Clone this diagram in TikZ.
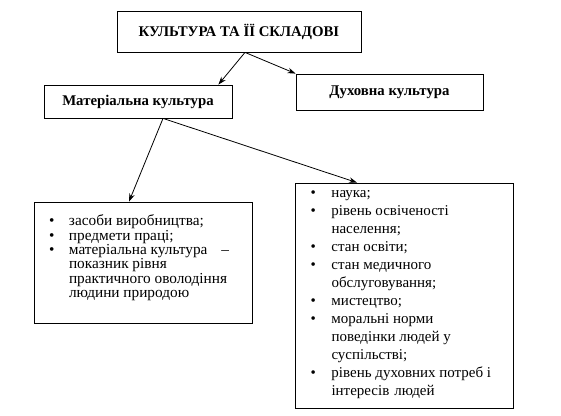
\documentclass[tikz,border=0pt]{standalone}
\usepackage{fontspec}
\setmainfont{Liberation Serif}
\usetikzlibrary{arrows.meta}
\newcommand{\bul}{\makebox[20pt][l]{\textbullet}}
\newcommand{\nob}{\makebox[20pt][l]{}}
\begin{document}
\begin{tikzpicture}[x=1pt,y=-1pt,
  box/.style={draw, line width=0.8pt, inner sep=0pt},
  head/.style={box, font=\fontsize{14.8}{16}\selectfont\bfseries},
  conn/.style={line width=0.8pt, -{Stealth[length=8pt,width=5.5pt]}}]
\useasboundingbox (0,0) rectangle (561,415);
\fill[white] (0,0) rectangle (561,415);
\node[head, minimum width=244pt, minimum height=41pt] (top) at (239,31.5) {КУЛЬТУРА ТА ЇЇ СКЛАДОВІ};
\node[head, minimum width=188pt, minimum height=33pt] (mat) at (138,101.5) {Матеріальна культура};
\node[head, minimum width=187pt, minimum height=36pt] (duh) at (389.5,92) {Духовна культура};
\node[box] (lb) at (143,262.5) {\begin{minipage}[c][121pt][t]{218pt}%
\vspace*{13pt}\fontsize{15.3}{14}\selectfont\noindent\hspace*{15pt}%
\begin{tabular}[t]{@{}l@{}l@{}}
\bul & засоби виробництва;\\
\bul & предмети праці;\\
\bul & матеріальна культура\hspace{14pt}–\\
\nob & показник рівня\\
\nob & практичного оволодіння\\
\nob & людини природою
\end{tabular}\end{minipage}};
\node[box] (rb) at (404.5,295.5) {\begin{minipage}[c][225pt][t]{218pt}%
\vspace*{2pt}\fontsize{15}{18}\selectfont\noindent\hspace*{15pt}%
\begin{tabular}[t]{@{}l@{\hspace{1pt}}l@{}}
\bul & наука;\\
\bul & рівень освіченості\\
\nob & населення;\\
\bul & стан освіти;\\
\bul & стан медичного\\
\nob & обслуговування;\\
\bul & мистецтво;\\
\bul & моральні норми\\
\nob & поведінки людей у\\
\nob & суспільстві;\\
\bul & рівень духовних потреб і\\
\nob & інтересів\hspace{5pt}людей
\end{tabular}\end{minipage}};
\draw[conn] ([xshift=6pt]top.south) -- ([xshift=-14pt]mat.north east);
\draw[conn] ([xshift=6pt]top.south) -- (duh.north west);
\draw[conn] ([xshift=25pt]mat.south) -- ([xshift=-14pt]lb.north);
\draw[conn] ([xshift=25pt]mat.south) -- ([xshift=-47.5pt]rb.north);
\end{tikzpicture}
\end{document}
